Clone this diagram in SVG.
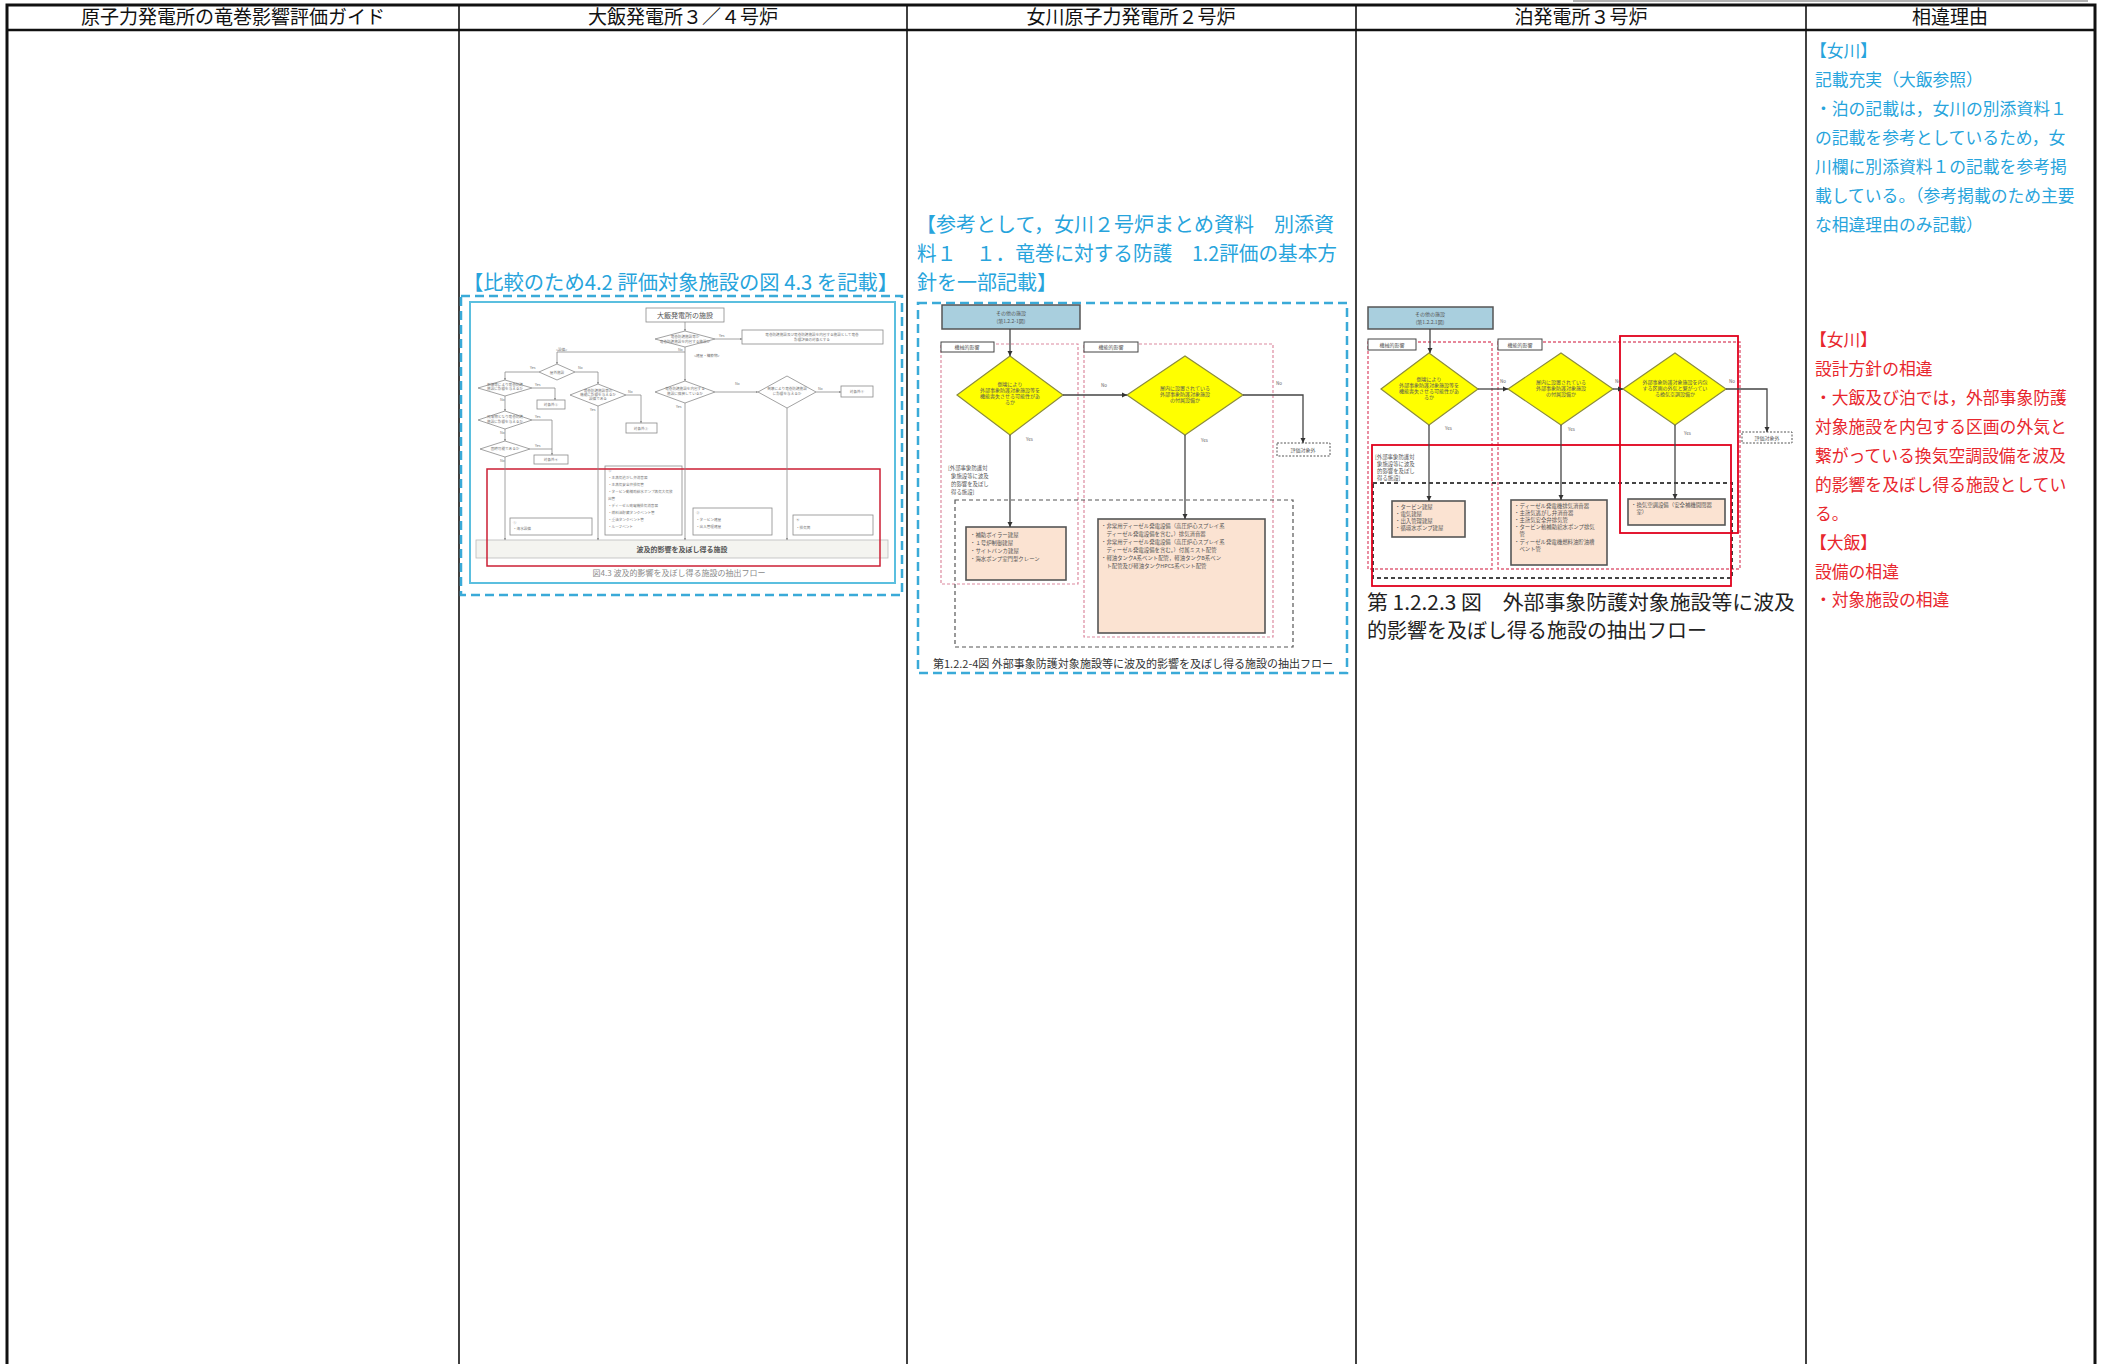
<svg xmlns="http://www.w3.org/2000/svg" width="2101" height="1364" viewBox="0 0 2101 1364">
<style>
text{font-family:"Noto Sans CJK JP","Noto Sans CJK SC","Liberation Sans",sans-serif}
.hdr{font-size:19px;fill:#111;text-anchor:middle}
.blue{fill:#27a4dc}
.red{fill:#e8262d}
.reason{font-size:16.8px}
.ttl{font-size:20px}
.g{fill:none;stroke:#8a8a8a;stroke-width:0.8}
.gt{font-size:3.6px;fill:#777;text-anchor:middle}
.gl{font-size:3.6px;fill:#777}
.fl{fill:none;stroke:#444;stroke-width:1.3}
.dia{fill:#ffff00;stroke:#8c8c3c;stroke-width:1.2}
.topbox{fill:#a9cfde;stroke:#555;stroke-width:1.5}
.peach{fill:#fbe3d2;stroke:#555;stroke-width:1.6}
.lbl{fill:#fff;stroke:#444;stroke-width:1}
.t5{font-size:5px;fill:#555;text-anchor:middle}
.t5l{font-size:5.4px;fill:#555}
.yn{font-size:4.5px;fill:#666}
.pinkd{fill:none;stroke:#dc8aa0;stroke-width:1.2;stroke-dasharray:3 2}
.pinkd2{fill:none;stroke:#e0607a;stroke-width:1.4;stroke-dasharray:3 2}
.bluedash{fill:none;stroke:#3aaad8;stroke-width:2.5;stroke-dasharray:9 5}
.redbox{fill:none;stroke:#e0001c;stroke-width:1.8}
</style>
<defs>
<marker id="ah" viewBox="0 0 6 6" refX="6" refY="3" markerWidth="4" markerHeight="4" orient="auto"><path d="M0,0 L6,3 L0,6 z" fill="#333"/></marker>
<marker id="ahg" viewBox="0 0 6 6" refX="6" refY="3" markerWidth="3" markerHeight="3" orient="auto"><path d="M0,0 L6,3 L0,6 z" fill="#888"/></marker>
</defs>
<rect width="2101" height="1364" fill="#fff"/>

<!-- table -->
<g id="table">
<line x1="1573" y1="1" x2="2088" y2="1" stroke="#999" stroke-width="1.5"/>
<rect x="7" y="5" width="2088" height="1375" fill="none" stroke="#111" stroke-width="3"/>
<line x1="7" y1="30" x2="2095" y2="30" stroke="#111" stroke-width="2.5"/>
<g stroke="#111" stroke-width="1.6">
<line x1="459" y1="5" x2="459" y2="1364"/>
<line x1="907" y1="5" x2="907" y2="1364"/>
<line x1="1356" y1="5" x2="1356" y2="1364"/>
<line x1="1806" y1="5" x2="1806" y2="1364"/>
</g>
<text class="hdr" x="233" y="24">原子力発電所の竜巻影響評価ガイド</text>
<text class="hdr" x="683" y="24">大飯発電所３／４号炉</text>
<text class="hdr" x="1131" y="24">女川原子力発電所２号炉</text>
<text class="hdr" x="1581" y="24">泊発電所３号炉</text>
<text class="hdr" x="1950" y="24">相違理由</text>
</g>

<!-- column 5 reasons -->
<g id="reasons" class="reason">
<text class="blue" x="1810" y="57">【女川】</text>
<text class="blue" x="1815" y="86">記載充実（大飯参照）</text>
<text class="blue" x="1815" y="115">・泊の記載は，女川の別添資料１</text>
<text class="blue" x="1815" y="144">の記載を参考としているため，女</text>
<text class="blue" x="1815" y="173">川欄に別添資料１の記載を参考掲</text>
<text class="blue" x="1815" y="202">載している。（参考掲載のため主要</text>
<text class="blue" x="1815" y="231">な相違理由のみ記載）</text>
<text class="red" x="1810" y="346">【女川】</text>
<text class="red" x="1815" y="375">設計方針の相違</text>
<text class="red" x="1815" y="404">・大飯及び泊では，外部事象防護</text>
<text class="red" x="1815" y="433">対象施設を内包する区画の外気と</text>
<text class="red" x="1815" y="462">繋がっている換気空調設備を波及</text>
<text class="red" x="1815" y="491">的影響を及ぼし得る施設としてい</text>
<text class="red" x="1815" y="520">る。</text>
<text class="red" x="1810" y="549">【大飯】</text>
<text class="red" x="1815" y="578">設備の相違</text>
<text class="red" x="1815" y="606">・対象施設の相違</text>
</g>

<!-- column 2: Ohi -->
<g id="ohi-title"><text class="blue ttl" x="463" y="290" textLength="435" lengthAdjust="spacingAndGlyphs">【比較のため4.2 評価対象施設の図 4.3 を記載】</text></g>
<g id="ohi-frame">
<rect class="bluedash" x="461" y="296" width="441" height="299"/>
<rect x="470" y="302" width="425" height="281" fill="none" stroke="#5bbfdf" stroke-width="2"/>
</g>
<g id="ohi-nodes">
<g id="o-start"><rect class="g" x="646" y="308" width="78" height="14"/><text x="685" y="318" font-size="7" fill="#555" text-anchor="middle">大飯発電所の施設</text></g>
<g id="o-d1"><polygon class="g" points="655,339 685,331 715,339 685,347"/><text class="gt" x="685" y="338">竜巻防護施設等か</text><text class="gt" x="685" y="343">竜巻防護施設を内包する施設か</text></g>
<g id="o-b"><rect class="g" x="742" y="330" width="141" height="14"/><text class="gt" x="812" y="336">竜巻防護施設及び竜巻防護施設を内包する施設として竜巻</text><text class="gt" x="812" y="341">影響評価の対象とする</text></g>
<g id="o-d2"><polygon class="g" points="539,372 557,364 575,372 557,380"/><text class="gt" x="557" y="373.5">屋外施設</text></g>
<g id="o-d3"><polygon class="g" points="478,388 505,380 532,388 505,396"/><text class="gt" x="505" y="386">倒壊等により竜巻防護</text><text class="gt" x="505" y="390">施設に影響を与えるか</text></g>
<g id="o-x2"><rect class="g" x="537" y="400" width="28" height="9"/><text class="gt" x="551" y="406">対象外②</text></g>
<g id="o-d4"><polygon class="g" points="478,420 505,411 532,420 505,429"/><text class="gt" x="505" y="418">飛来物となり竜巻防護</text><text class="gt" x="505" y="422.5">施設に影響を与えるか</text></g>
<g id="o-d5"><polygon class="g" points="480,449 505,441 530,449 505,457"/><text class="gt" x="505" y="450">固縛可能であるか</text></g>
<g id="o-x4"><rect class="g" x="534" y="455" width="34" height="9"/><text class="gt" x="551" y="461">対象外④</text></g>
<g id="o-d6"><polygon class="g" points="570,395 598,384 626,395 598,406"/><text class="gt" x="598" y="392">竜巻防護施設等の</text><text class="gt" x="598" y="396">機能に影響を与えるか</text><text class="gt" x="598" y="400">設備である</text></g>
<g id="o-x3"><rect class="g" x="626" y="423" width="31" height="10"/><text class="gt" x="641" y="429.5">対象外③</text></g>
<g id="o-d7"><polygon class="g" points="655,392 685,381 715,392 685,403"/><text class="gt" x="685" y="390">竜巻防護施設を内包する</text><text class="gt" x="685" y="394.5">施設に隣接しているか</text></g>
<g id="o-d8"><polygon class="g" points="758,392 787,376 816,392 787,408"/><text class="gt" x="787" y="390">倒壊により竜巻防護施設</text><text class="gt" x="787" y="394.5">に影響を与えるか</text></g>
<g id="o-x5"><rect class="g" x="841" y="386" width="32" height="11"/><text class="gt" x="857" y="393">対象外⑤</text></g>
<g id="o-b1"><rect class="g" x="510" y="518" width="82" height="17"/><text class="gl" x="513" y="524">①</text><text class="gl" x="513" y="530">・海水設備</text></g>
<g id="o-b2"><rect class="g" x="605" y="466" width="77" height="69"/>
<text class="gl" x="608" y="472">②</text><text class="gl" x="608" y="479">・主蒸気逃がし弁消音器</text><text class="gl" x="608" y="486">・主蒸気安全弁排気管</text><text class="gl" x="608" y="493">・タービン動補助給水ポンプ蒸気大気放</text><text class="gl" x="608" y="500">出管</text><text class="gl" x="608" y="507">・ディーゼル発電機排気消音器</text><text class="gl" x="608" y="514">・燃料油貯蔵タンクベント管</text><text class="gl" x="608" y="521">・重油タンクベント管</text><text class="gl" x="608" y="528">・ルーフベント</text></g>
<g id="o-b3"><rect class="g" x="693" y="508" width="79" height="27"/><text class="gl" x="696" y="514">③</text><text class="gl" x="696" y="521">・タービン建屋</text><text class="gl" x="696" y="528">・出入管理建屋</text></g>
<g id="o-b4"><rect class="g" x="793" y="515" width="80" height="20"/><text class="gl" x="796" y="521">④</text><text class="gl" x="796" y="529">・排気筒</text></g>
<g id="o-end"><rect x="476" y="540" width="412" height="18" fill="#f4f4f0" stroke="#bbb" stroke-width="0.8"/><text x="682" y="552" font-size="7" font-weight="bold" fill="#555" text-anchor="middle">波及的影響を及ぼし得る施設</text></g>
<g id="o-red"><rect x="487" y="469" width="393" height="97" fill="none" stroke="#cc1f35" stroke-width="1.5"/></g>
<text x="679" y="576" font-size="8" fill="#8a8a8a" text-anchor="middle">図4.3 波及的影響を及ぼし得る施設の抽出フロー</text>
</g>
<g id="ohi-connectors" class="g">
<path d="M685,322 V331" marker-end="url(#ahg)"/>
<path d="M715,339 H742" marker-end="url(#ahg)"/>
<path d="M685,347 V381" marker-end="url(#ahg)"/>
<path d="M685,352 H557 V364" marker-end="url(#ahg)"/>
<path d="M539,372 H505 V380" marker-end="url(#ahg)"/>
<path d="M575,372 H598 V384" marker-end="url(#ahg)"/>
<path d="M532,388 H555 V400" marker-end="url(#ahg)"/>
<path d="M505,396 V411" marker-end="url(#ahg)"/>
<path d="M532,420 H552 V455" marker-end="url(#ahg)"/>
<path d="M505,429 V441" marker-end="url(#ahg)"/>
<path d="M530,449 H552"/>
<path d="M505,457 V540" marker-end="url(#ahg)"/>
<path d="M626,395 H641 V423" marker-end="url(#ahg)"/>
<path d="M598,406 V540" marker-end="url(#ahg)"/>
<path d="M715,392 H758" marker-end="url(#ahg)"/>
<path d="M816,392 H841" marker-end="url(#ahg)"/>
<path d="M685,403 V540" marker-end="url(#ahg)"/>
<path d="M787,408 V540" marker-end="url(#ahg)"/>
</g>
<g id="ohi-labels">
<text class="gl" x="719" y="337">Yes</text><text class="gl" x="678" y="351">No</text>
<text class="gl" x="556" y="351">&lt;設備&gt;</text><text class="gl" x="694" y="357">&lt;建屋・構築物&gt;</text>
<text class="gl" x="530" y="369">Yes</text><text class="gl" x="578" y="369">No</text>
<text class="gl" x="535" y="386">Yes</text><text class="gl" x="500" y="401">No</text>
<text class="gl" x="535" y="418">Yes</text><text class="gl" x="500" y="434">No</text>
<text class="gl" x="535" y="447">Yes</text><text class="gl" x="500" y="462">No</text>
<text class="gl" x="628" y="393">No</text><text class="gl" x="590" y="411">Yes</text>
<text class="gl" x="735" y="385">No</text><text class="gl" x="676" y="408">Yes</text>
<text class="gl" x="818" y="390">No</text>
</g>

<!-- column 3: Onagawa -->
<g id="onagawa-title" class="blue ttl">
<text x="916" y="232" textLength="418" lengthAdjust="spacingAndGlyphs">【参考として，女川２号炉まとめ資料　別添資</text>
<text x="917" y="261" textLength="420" lengthAdjust="spacingAndGlyphs">料１　１．竜巻に対する防護　1.2評価の基本方</text>
<text x="917" y="290">針を一部記載】</text>
</g>
<g id="onagawa-frame"><rect class="bluedash" x="918" y="303" width="429" height="370"/></g>
<g id="onagawa-nodes">
<g id="n-start"><rect class="topbox" x="942" y="305" width="138" height="24"/><text class="t5" x="1011" y="315">その他の施設</text><text class="t5" x="1011" y="323">(第1.2.2-1図)</text></g>
<g id="n-mech"><rect class="pinkd" x="941" y="344" width="137" height="240"/><rect class="lbl" x="941" y="342" width="53" height="10"/><text class="t5" x="967" y="349">機械的影響</text></g>
<g id="n-func"><rect class="pinkd" x="1084" y="344" width="189" height="293"/><rect class="lbl" x="1084" y="342" width="54" height="10"/><text class="t5" x="1111" y="349">機能的影響</text></g>
<g id="n-d1"><polygon class="dia" points="957,395 1010,356 1063,395 1010,435"/><text class="t5" x="1010" y="386">倒壊により</text><text class="t5" x="1010" y="392">外部事象防護対象施設等を</text><text class="t5" x="1010" y="398">機能喪失させる可能性があ</text><text class="t5" x="1010" y="404">るか</text></g>
<g id="n-d2"><polygon class="dia" points="1127,395 1185,356 1243,395 1185,435"/><text class="t5" x="1185" y="390">屋内に設置されている</text><text class="t5" x="1185" y="396">外部事象防護対象施設</text><text class="t5" x="1185" y="402">の付属設備か</text></g>
<g id="n-out"><rect x="1277" y="443" width="53" height="13" fill="#fff" stroke="#555" stroke-width="1" stroke-dasharray="2 1.5"/><text class="t5" x="1303" y="452">評価対象外</text></g>
<g id="n-bracket"><text class="t5l" font-size="7" x="948" y="470">[外部事象防護対</text><text class="t5l" x="951" y="478" font-size="7">象施設等に波及</text><text class="t5l" x="951" y="486" font-size="7">的影響を及ぼし</text><text class="t5l" x="951" y="494" font-size="7">得る施設]</text></g>
<g id="n-group"><rect x="955" y="500" width="338" height="147" fill="none" stroke="#555" stroke-width="1.2" stroke-dasharray="4 3"/></g>
<g id="n-box1"><rect class="peach" x="966" y="527" width="100" height="53"/><text class="t5l" x="970" y="537">・補助ボイラー建屋</text><text class="t5l" x="970" y="545">・１号炉制御建屋</text><text class="t5l" x="970" y="553">・サイトバンカ建屋</text><text class="t5l" x="970" y="561">・海水ポンプ室門型クレーン</text></g>
<g id="n-box2"><rect class="peach" x="1098" y="519" width="167" height="114"/><text class="t5l" x="1101" y="528">・非常用ディーゼル発電設備（高圧炉心スプレイ系</text><text class="t5l" x="1101" y="536">　ディーゼル発電設備を含む。）排気消音器</text><text class="t5l" x="1101" y="544">・非常用ディーゼル発電設備（高圧炉心スプレイ系</text><text class="t5l" x="1101" y="552">　ディーゼル発電設備を含む。）付属ミスト配管</text><text class="t5l" x="1101" y="560">・軽油タンクA系ベント配管，軽油タンクB系ベン</text><text class="t5l" x="1101" y="568">　ト配管及び軽油タンクHPCS系ベント配管</text></g>
<text x="933" y="668" font-size="11" fill="#333" textLength="400" lengthAdjust="spacingAndGlyphs">第1.2.2-4図 外部事象防護対象施設等に波及的影響を及ぼし得る施設の抽出フロー</text>
</g>
<g id="onagawa-connectors" class="fl">
<path d="M1010,329 V356" marker-end="url(#ah)"/>
<path d="M1063,395 H1127" marker-end="url(#ah)"/>
<path d="M1243,395 H1303 V443" marker-end="url(#ah)"/>
<path d="M1010,435 V527" marker-end="url(#ah)"/>
<path d="M1185,435 V519" marker-end="url(#ah)"/>
</g>
<g id="onagawa-labels"><text class="yn" x="1101" y="387">No</text><text class="yn" x="1276" y="385">No</text><text class="yn" x="1026" y="441">Yes</text><text class="yn" x="1201" y="442">Yes</text></g>

<!-- column 4: Tomari -->
<g id="tomari-nodes">
<g id="t-start"><rect class="topbox" x="1368" y="307" width="125" height="22"/><text class="t5" x="1430" y="316">その他の施設</text><text class="t5" x="1430" y="324">(第1.2.2.1図)</text></g>
<g id="t-mech"><rect class="pinkd2" x="1368" y="342" width="124" height="227"/><rect class="lbl" x="1368" y="339" width="48" height="11"/><text class="t5" x="1392" y="346.5">機械的影響</text></g>
<g id="t-func"><rect class="pinkd2" x="1498" y="342" width="242" height="227"/><rect class="lbl" x="1498" y="339" width="44" height="11"/><text class="t5" x="1520" y="346.5">機能的影響</text></g>
<g id="t-d1"><polygon class="dia" points="1381,389 1429,353 1478,389 1429,425"/><text class="t5" x="1429" y="381">倒壊により</text><text class="t5" x="1429" y="387">外部事象防護対象施設等を</text><text class="t5" x="1429" y="393">機能喪失させる可能性があ</text><text class="t5" x="1429" y="399">るか</text></g>
<g id="t-d2"><polygon class="dia" points="1508,389 1561,353 1613,389 1561,425"/><text class="t5" x="1561" y="384">屋内に設置されている</text><text class="t5" x="1561" y="390">外部事象防護対象施設</text><text class="t5" x="1561" y="396">の付属設備か</text></g>
<g id="t-d3"><polygon class="dia" points="1623,389 1675,353 1726,389 1675,425"/><text class="t5" x="1675" y="384">外部事象防護対象施設を内包</text><text class="t5" x="1675" y="390">する区画の外気と繋がってい</text><text class="t5" x="1675" y="396">る換気空調設備か</text></g>
<g id="t-out"><rect x="1742" y="432" width="50" height="11" fill="#fff" stroke="#555" stroke-width="1" stroke-dasharray="2 1.5"/><text class="t5" x="1767" y="440">評価対象外</text></g>
<g id="t-bracket"><text class="t5l" x="1375" y="459" font-size="6">[外部事象防護対</text><text class="t5l" x="1377" y="466" font-size="6">象施設等に波及</text><text class="t5l" x="1377" y="473" font-size="6">的影響を及ぼし</text><text class="t5l" x="1377" y="480" font-size="6">得る施設]</text></g>
<g id="t-group"><rect x="1373" y="483" width="359" height="95" fill="none" stroke="#444" stroke-width="2" stroke-dasharray="4 3"/></g>
<g id="t-box1"><rect class="peach" x="1392" y="501" width="73" height="36"/><text class="t5l" font-size="5" x="1395" y="509">・タービン建屋</text><text class="t5l" font-size="5" x="1395" y="516">・電気建屋</text><text class="t5l" font-size="5" x="1395" y="523">・出入管理建屋</text><text class="t5l" font-size="5" x="1395" y="530">・循環水ポンプ建屋</text></g>
<g id="t-box2"><rect class="peach" x="1511" y="500" width="96" height="65"/><text class="t5l" font-size="5" x="1514" y="508">・ディーゼル発電機排気消音器</text><text class="t5l" font-size="5" x="1514" y="515">・主蒸気逃がし弁消音器</text><text class="t5l" font-size="5" x="1514" y="522">・主蒸気安全弁排気管</text><text class="t5l" font-size="5" x="1514" y="529">・タービン動補助給水ポンプ排気</text><text class="t5l" font-size="5" x="1514" y="536">　管</text><text class="t5l" font-size="5" x="1514" y="544">・ディーゼル発電機燃料油貯油槽</text><text class="t5l" font-size="5" x="1514" y="551">　ベント管</text></g>
<g id="t-box3"><rect class="peach" x="1628" y="499" width="97" height="26"/><text class="t5l" font-size="5" x="1631" y="507">・換気空調設備（安全補機開閉器</text><text class="t5l" font-size="5" x="1631" y="514">　室）</text></g>
<g id="t-red"><rect class="redbox" x="1372" y="445" width="359" height="141"/><rect class="redbox" x="1620" y="336" width="118" height="197"/></g>
<g id="t-caption"><text x="1367" y="610" font-size="20" fill="#222" textLength="428" lengthAdjust="spacingAndGlyphs">第 1.2.2.3 図　外部事象防護対象施設等に波及</text><text x="1367" y="638" font-size="20" fill="#222">的影響を及ぼし得る施設の抽出フロー</text></g>
</g>
<g id="tomari-connectors" class="fl">
<path d="M1430,329 V353" marker-end="url(#ah)"/>
<path d="M1478,389 H1508" marker-end="url(#ah)"/>
<path d="M1613,389 H1623" marker-end="url(#ah)"/>
<path d="M1726,389 H1767 V432" marker-end="url(#ah)"/>
<path d="M1429,425 V501" marker-end="url(#ah)"/>
<path d="M1561,425 V500" marker-end="url(#ah)"/>
<path d="M1675,425 V499" marker-end="url(#ah)"/>
</g>
<g id="tomari-labels"><text class="yn" x="1500" y="383">No</text><text class="yn" x="1615" y="383">No</text><text class="yn" x="1729" y="383">No</text><text class="yn" x="1445" y="430">Yes</text><text class="yn" x="1568" y="431">Yes</text><text class="yn" x="1684" y="435">Yes</text></g>
</svg>
